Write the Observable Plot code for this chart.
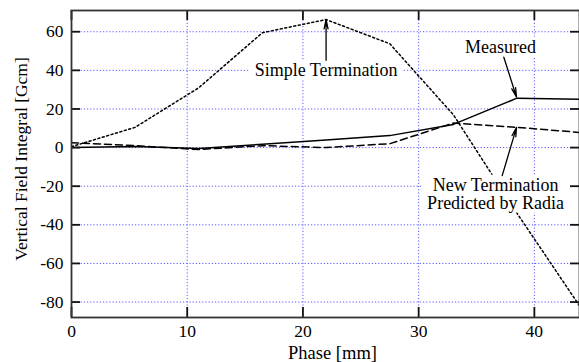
<!DOCTYPE html>
<html><head><meta charset="utf-8">
<script src="https://cdn.jsdelivr.net/npm/d3@7"></script>
<script src="https://cdn.jsdelivr.net/npm/@observablehq/plot@0.6"></script>
<style>
body{margin:0;background:#fff;overflow:hidden}
#chart svg, #chart svg text, #chart svg g {font-family:"Liberation Serif","Times New Roman",serif !important;}
</style>
</head><body><div id="chart"></div>
<script>
// Phase [mm]
const phase = [0, 5.5, 11, 16.5, 22, 27.5, 33, 38.5, 44];
// Vertical field integral [Gcm]
const measured = [0, 0.5, -0.5, 1.7, 3.9, 6.2, 12, 25.6, 25];
const newTermination = [2.5, 1, -1, 1, 0, 2, 12.7, 10.5, 7.8];
const simpleTermination = [0.5, 10.5, 31, 59.5, 66.3, 53.8, 17, -34, -82.8];

const xTicks = [0, 10, 20, 30, 40];
const yTicks = [-80, -60, -40, -20, 0, 20, 40, 60];
const xGridTicks = [10, 20, 30, 40];
const xLabel = "Phase [mm]";
const yLabel = "Vertical Field Integral [Gcm]";

// annotations
const noteText = ["Simple Termination", "Measured", "New Termination\nPredicted by Radia"];
const noteX = [22, 37.08, 36.65];
const noteY = [40, 52.1, -24];
const arrowX1 = [22, 37.36, 37.22];
const arrowY1 = [45.2, 46.8, -14.5];
const arrowX2 = [22, 38.46, 38.46];
const arrowY2 = [66.3, 26.1, 10.5];

const toRows = vals => phase.map((p, i) => ({phase: p, value: vals[i]}));
const notes = noteText.map((t, i) => ({text: t, x: noteX[i], y: noteY[i]}));
const arrows = arrowX1.map((_, i) => ({x1: arrowX1[i], y1: arrowY1[i], x2: arrowX2[i], y2: arrowY2[i]}));

const W = 579, H = 362, mL = 71, mR = 0, mT = 10, mB = 45;
const innerW = W - mL - mR, innerH = H - mT - mB;
const fs = 17.5;
const gridStyle = {stroke: "#5a5aff", strokeOpacity: 1, strokeWidth: 1, strokeDasharray: "1.2,2"};

const chart = Plot.plot({
  width: W, height: H,
  marginLeft: mL, marginRight: mR, marginTop: mT, marginBottom: mB,
  style: {fontSize: "17.5px", background: "#fff"},
  x: {domain: [0, 43.9]},
  y: {domain: [-88, 71]},
  marks: [
    Plot.gridX(xGridTicks, gridStyle),
    Plot.gridY(yTicks, gridStyle),
    Plot.line(toRows(simpleTermination), {x: "phase", y: "value", stroke: "#000", strokeWidth: 1.5, strokeDasharray: "2,2.6", clip: true}),
    Plot.line(toRows(newTermination), {x: "phase", y: "value", stroke: "#000", strokeWidth: 1.5, strokeDasharray: "7,4", clip: true}),
    Plot.line(toRows(measured), {x: "phase", y: "value", stroke: "#000", strokeWidth: 1.5, clip: true}),
    // inward tick marks
    Plot.ruleX(xTicks, {x: d => d, insetBottom: innerH - 10, stroke: "#111", strokeWidth: 1.8}),
    Plot.ruleX(xTicks, {x: d => d, insetTop: innerH - 10, stroke: "#111", strokeWidth: 1.8}),
    Plot.ruleY(yTicks, {y: d => d, insetRight: innerW - 9, stroke: "#111", strokeWidth: 1.8}),
    Plot.ruleY(yTicks, {y: d => d, insetLeft: innerW - 9, stroke: "#111", strokeWidth: 1.8}),
    Plot.frame({stroke: "#333", strokeWidth: 1.8}),
    Plot.axisX(xTicks, {tickSize: 0, tickPadding: 7, fontSize: fs, label: null, fill: "#000"}),
    Plot.axisY(yTicks, {tickSize: 0, tickPadding: 8, fontSize: fs, label: null, fill: "#000", tickFormat: d => String(d).replace("−", "-")}),
    Plot.text([yLabel], {text: d => d, frameAnchor: "left", textAnchor: "middle", lineAnchor: "middle", rotate: -90, dx: -50, dy: -5, fontSize: fs, fill: "#000"}),
    Plot.text([xLabel], {text: d => d, frameAnchor: "bottom", textAnchor: "middle", lineAnchor: "middle", dx: 7, dy: 36, fontSize: 18.5, fill: "#000"}),
    Plot.text(notes, {x: "x", y: "y", text: "text", fontSize: 18, fill: "#000", lineHeight: 1.0, ariaDescription: "annotation"}),
    Plot.arrow(arrows, {x1: "x1", y1: "y1", x2: "x2", y2: "y2", stroke: "#000", strokeWidth: 1.3, headAngle: 24, headLength: 11})
  ]
});
document.getElementById("chart").appendChild(chart);

// white boxes behind annotation labels
const ns = "http://www.w3.org/2000/svg";
chart.querySelectorAll('g[aria-description="annotation"] text').forEach(el => {
  const b = el.getBBox();
  const r = document.createElementNS(ns, "rect");
  r.setAttribute("x", b.x - 5);
  r.setAttribute("y", b.y);
  r.setAttribute("width", b.width + 10);
  r.setAttribute("height", b.height);
  r.setAttribute("fill", "#fff");
  r.setAttribute("stroke", "none");
  const t = el.getAttribute("transform");
  if (t) r.setAttribute("transform", t);
  el.parentNode.insertBefore(r, el);
});
</script>
</body></html>
